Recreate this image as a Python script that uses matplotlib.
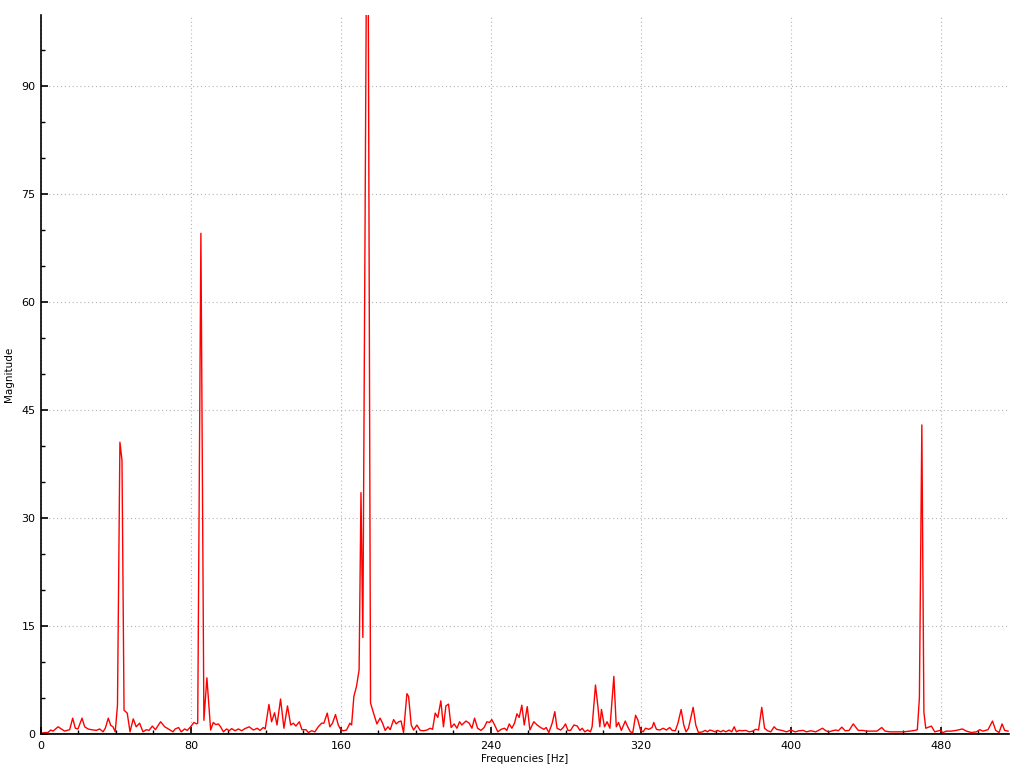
import matplotlib
matplotlib.use("Agg")
import matplotlib.pyplot as plt
from matplotlib.ticker import MultipleLocator

# spectrum (Hz, magnitude)
freqs = [
    0.0, 2.0, 3.7, 5.2, 6.4, 9.1, 10.8, 12.6, 15.3, 16.9, 18.3, 19.7, 21.9, 23.3,
    25.1, 26.8, 29.5, 31.3, 33.1, 34.3, 35.9, 37.2, 38.4, 39.6, 40.8, 42.1, 43.2,
    44.3, 46.0, 47.5, 49.2, 50.8, 52.6, 54.4, 56.2, 57.6, 59.4, 61.0, 63.8, 66.0,
    68.6, 70.4, 71.6, 73.4, 74.8, 76.6, 78.0, 79.8, 81.6, 83.0, 83.6, 85.3, 86.9,
    88.5, 90.5, 91.9, 93.2, 94.6, 95.8, 97.3, 99.0, 100.4, 101.7, 103.5, 105.3,
    107.0, 108.8, 111.1, 113.3, 115.4, 116.8, 118.6, 119.6, 121.6, 123.0, 124.6,
    125.9, 127.8, 129.6, 131.5, 133.2, 134.6, 136.0, 137.8, 139.2, 141.3, 142.7,
    144.3, 146.1, 147.9, 149.7, 150.9, 152.7, 154.1, 155.5, 157.1, 158.6, 159.8,
    161.2, 163.0, 164.8, 165.7, 166.9, 168.3, 169.7, 170.7, 171.7, 174.2, 175.8,
    177.4, 179.2, 180.9, 182.2, 183.6, 185.1, 186.3, 188.1, 189.5, 190.8, 192.1,
    193.4, 195.2, 196.1, 197.5, 198.8, 200.5, 202.3, 204.1, 205.9, 207.6, 208.9,
    210.3, 211.7, 213.3, 214.7, 216.0, 217.4, 218.8, 220.4, 221.9, 223.3, 224.5,
    226.7, 228.4, 229.9, 231.3, 232.9, 234.7, 236.4, 237.9, 239.3, 240.5, 242.0,
    243.7, 245.5, 247.3, 248.5, 249.8, 251.2, 252.6, 253.9, 255.1, 256.5, 257.8,
    259.4, 260.8, 262.9, 264.7, 266.5, 268.3, 269.5, 270.9, 272.7, 274.1, 275.3,
    277.2, 278.6, 279.8, 281.1, 282.5, 284.3, 286.1, 287.5, 288.7, 290.1, 291.7,
    293.1, 294.0, 295.8, 297.1, 298.1, 299.0, 300.6, 302.0, 303.5, 305.6, 306.9,
    308.1, 309.6, 311.7, 313.0, 314.4, 315.7, 317.2, 318.4, 319.8, 321.2, 322.5,
    324.3, 326.0, 326.9, 328.3, 330.1, 331.9, 333.6, 335.4, 336.7, 338.4, 339.8,
    341.5, 342.9, 344.1, 345.4, 347.9, 349.3, 350.7, 352.9, 354.3, 355.6, 356.8,
    358.2, 359.6, 360.9, 362.7, 363.9, 365.3, 367.1, 368.5, 369.8, 371.0, 372.4,
    374.2, 376.0, 377.8, 379.6, 381.3, 382.8, 384.5, 386.0, 387.6, 389.3, 391.1,
    392.4, 394.1, 395.9, 397.7, 400.0, 402.3, 404.4, 406.6, 408.3, 410.7, 413.3,
    415.1, 416.9, 418.7, 420.4, 422.2, 424.0, 425.4, 427.2, 429.0, 431.1, 433.3,
    436.0, 438.3, 440.5, 443.2, 445.9, 448.5, 450.3, 452.9, 456.5, 460.0, 463.6,
    466.3, 467.5, 468.6, 469.9, 471.0, 472.0, 475.0, 476.8, 479.5, 481.2, 483.0,
    485.7, 488.3, 491.5, 493.7, 496.3, 499.0, 500.8, 502.5, 505.2, 507.6, 509.3,
    511.1, 512.7, 514.1, 515.9,
]
mags = [
    0.1, 0.2, 0.2, 0.55, 0.4, 1.0, 0.7, 0.4, 0.6, 2.2, 0.8, 0.7, 2.2, 1.0,
    0.7, 0.6, 0.5, 0.7, 0.3, 0.8, 2.2, 1.2, 1.0, 0.3, 4.0, 40.5, 38.0,
    3.3, 2.9, 0.3, 2.1, 1.0, 1.5, 0.3, 0.6, 0.5, 1.1, 0.6, 1.7, 1.0,
    0.6, 0.3, 0.7, 0.9, 0.3, 0.7, 0.5, 1.0, 1.6, 1.4, 1.5, 69.5, 1.9,
    7.8, 0.55, 1.6, 1.3, 1.4, 1.0, 0.3, 0.7, 0.45, 0.75, 0.45, 0.7,
    0.45, 0.75, 1.0, 0.55, 0.8, 0.5, 0.9, 0.7, 4.1, 1.7, 2.95,
    1.25, 4.85, 0.8, 3.9, 1.25, 1.5, 1.1, 1.7, 0.6, 0.6, 0.2,
    0.45, 0.3, 1.0, 1.5, 1.5, 2.9, 1.0, 1.5, 2.7, 1.25, 0.65,
    0.45, 0.55, 1.5, 1.25, 5.2, 6.6, 8.9, 33.5, 13.4, 135.0, 4.3,
    2.9, 1.4, 2.2, 1.5, 0.5, 1.0, 0.6, 2.0, 1.4, 1.7, 1.8,
    0.2, 5.6, 5.2, 1.25, 0.55, 1.25, 0.5, 0.45, 0.55, 0.8, 0.65,
    2.9, 2.3, 4.6, 1.0, 3.9, 4.15, 0.9, 1.4, 0.8, 1.7, 1.25,
    1.8, 1.5, 0.8, 2.2, 0.8, 0.5, 0.9, 1.7, 1.6, 2.0, 1.25,
    0.3, 0.65, 0.8, 0.5, 1.4, 0.8, 1.5, 2.8, 2.3, 4.0, 1.25,
    3.8, 0.55, 1.7, 1.25, 0.9, 0.65, 0.9, 0.2, 1.5, 3.1, 0.8,
    0.55, 0.9, 1.4, 0.5, 0.5, 1.25, 1.1, 0.5, 0.8, 0.3, 0.55,
    0.3, 1.0, 6.8, 3.8, 1.0, 3.4, 1.0, 1.7, 0.8, 8.0, 1.0,
    1.6, 0.5, 1.8, 1.0, 0.3, 0.2, 2.6, 1.95, 0.55, 0.3, 0.8,
    0.65, 0.9, 1.6, 0.65, 0.55, 0.8, 0.55, 0.9, 0.5, 0.45, 1.5,
    3.4, 1.25, 0.3, 0.8, 3.7, 1.25, 0.2, 0.3, 0.5, 0.3, 0.55,
    0.45, 0.3, 0.5, 0.3, 0.5, 0.3, 0.55, 0.3, 1.0, 0.3, 0.5,
    0.45, 0.5, 0.3, 0.4, 0.65, 0.55, 3.7, 0.8, 0.45, 0.3, 1.0,
    0.65, 0.55, 0.45, 0.3, 0.55, 0.3, 0.45, 0.5, 0.3, 0.45, 0.3,
    0.55, 0.8, 0.45, 0.3, 0.45, 0.55, 0.45, 0.95, 0.45, 0.5, 1.4,
    0.5, 0.5, 0.4, 0.4, 0.4, 0.9, 0.4, 0.3, 0.3, 0.3, 0.4,
    0.5, 0.6, 5.0, 42.9, 3.0, 0.8, 1.1, 0.3, 0.5, 0.2, 0.4,
    0.4, 0.5, 0.7, 0.4, 0.2, 0.3, 0.6, 0.4, 0.6, 1.8, 0.5,
    0.2, 1.4, 0.5, 0.4,
]

x_ticks = [0, 80, 160, 240, 320, 400, 480]
y_ticks = [0, 15, 30, 45, 60, 75, 90]

fig = plt.figure(figsize=(10.24, 7.68), dpi=100)
ax = fig.add_axes([41 / 1024, 34 / 768, 968 / 1024, 719 / 768])

ax.axhline(0, color="#6464d2", lw=1.3, zorder=1.5)
ax.plot(freqs, mags, color="#ff0000", lw=1.0, zorder=2)

ax.set_xlim(0, 516.4)
ax.set_ylim(0, 99.8)
ax.set_xticks(x_ticks)
ax.set_yticks(y_ticks)
ax.xaxis.set_minor_locator(MultipleLocator(20))
ax.yaxis.set_minor_locator(MultipleLocator(5))

ax.grid(True, which="major", linestyle=(0, (1, 2.5)), color="#b4b4b4", lw=0.8)
ax.set_axisbelow(True)

for s in ["top", "right"]:
    ax.spines[s].set_visible(False)
for s in ["left", "bottom"]:
    ax.spines[s].set_linewidth(1.2)
    ax.spines[s].set_color("black")

ax.tick_params(which="major", direction="in", length=5, width=1.2, labelsize=8, pad=5)
ax.tick_params(which="minor", direction="in", length=3, width=1.0)
ax.tick_params(axis="y", which="major", pad=4)

ax.set_xlabel("Frequencies [Hz]", fontsize=7.5, labelpad=2)
ax.set_ylabel("Magnitude", fontsize=7.5, labelpad=5)

fig.savefig("out.png", dpi=100)
